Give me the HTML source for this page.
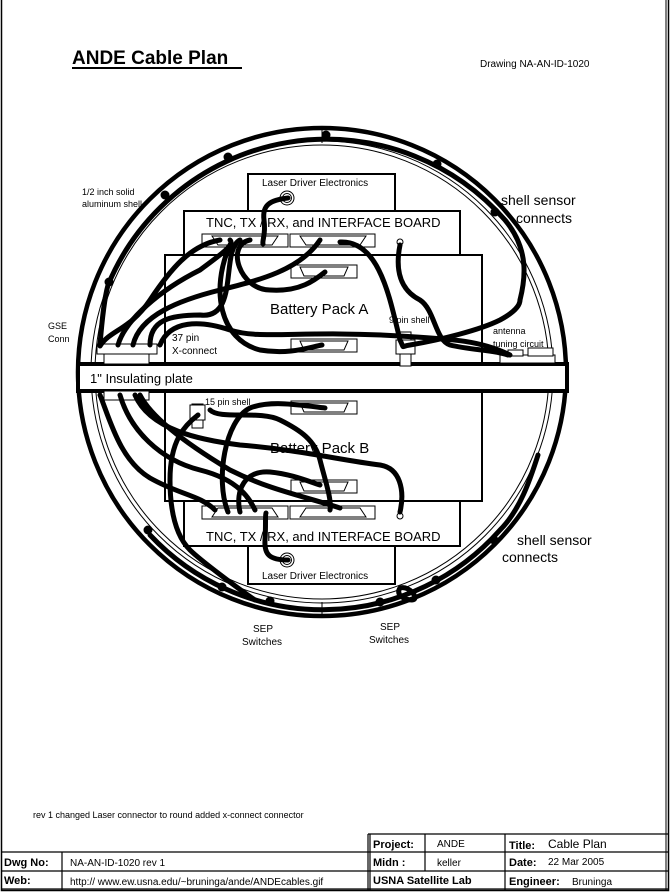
<!DOCTYPE html>
<html><head><meta charset="utf-8"><style>
html,body{margin:0;padding:0;background:#fff}
svg{display:block}
text{font-family:"Liberation Sans",Arial,sans-serif;fill:#000}
</style></head><body>
<svg width="670" height="892" viewBox="0 0 670 892" xmlns="http://www.w3.org/2000/svg">
<rect x="0" y="0" width="670" height="892" fill="#fff"/>
<path d="M1.5 0V890.5H668.5V0" fill="none" stroke="#000" stroke-width="1.5"/>
<line x1="666" y1="0" x2="666" y2="890" stroke="#000" stroke-width="1"/>

<text x="72" y="64" font-size="19" font-weight="bold">ANDE Cable Plan</text>
<line x1="72" y1="68" x2="242" y2="68" stroke="#000" stroke-width="2"/>
<text x="480" y="67" font-size="10">Drawing  NA-AN-ID-1020</text>

<circle cx="322" cy="372" r="244" fill="none" stroke="#000" stroke-width="4.5"/>
<circle cx="322" cy="372" r="231" fill="none" stroke="#000" stroke-width="1"/>
<circle cx="322" cy="372" r="227" fill="none" stroke="#000" stroke-width="1"/>
<line x1="322" y1="128" x2="322" y2="143" stroke="#000"/>
<line x1="322" y1="602" x2="322" y2="616" stroke="#000"/>

<g fill="#fff" stroke="#000" stroke-width="2">
<rect x="248" y="174" width="147" height="38"/>
<rect x="184" y="211" width="276" height="44"/>
<rect x="165" y="255" width="317" height="109"/>
<rect x="165" y="392" width="317" height="109"/>
<rect x="184" y="501" width="276" height="45"/>
<rect x="248" y="546" width="147" height="38"/>
</g>
<rect x="78" y="364" width="489" height="27" fill="#fff" stroke="#000" stroke-width="4"/>
<text x="90" y="383" font-size="13">1" Insulating plate</text>

<g font-size="10">
<text x="262" y="186">Laser Driver Electronics</text>
<text x="262" y="579">Laser Driver Electronics</text>
</g>
<g font-size="13">
<text x="206" y="227">TNC, TX / RX, and INTERFACE BOARD</text>
<text x="206" y="541">TNC, TX / RX, and INTERFACE BOARD</text>
<text x="270" y="314" font-size="15">Battery Pack A</text>
<text x="270" y="453" font-size="15">Battery Pack B</text>
<text x="501" y="205" font-size="14">shell sensor</text>
<text x="516" y="223" font-size="14">connects</text>
<text x="517" y="545" font-size="14">shell sensor</text>
<text x="502" y="562" font-size="14">connects</text>
</g>
<g font-size="9">
<text x="82" y="195">1/2 inch solid</text>
<text x="82" y="207">aluminum shell</text>
<text x="48" y="329">GSE</text>
<text x="48" y="342">Conn</text>
<text x="172" y="341" font-size="10">37 pin</text>
<text x="172" y="354" font-size="10">X-connect</text>
<text x="389" y="323">9 pin shell</text>
<text x="205" y="405">15 pin shell</text>
<text x="493" y="334">antenna</text>
<text x="493" y="347">tuning circuit</text>
<text x="253" y="632" font-size="10">SEP</text>
<text x="242" y="645" font-size="10">Switches</text>
<text x="380" y="630" font-size="10">SEP</text>
<text x="369" y="643" font-size="10">Switches</text>
<text x="33" y="818">rev 1 changed Laser connector to round added x-connect connector</text>
</g>

<g fill="#fff" stroke="#000" stroke-width="1">
<rect x="202" y="234" width="86" height="13"/><rect x="290" y="234" width="85" height="13"/>
<rect x="291" y="265" width="66" height="13"/><rect x="291" y="339" width="66" height="13"/>
<rect x="291" y="401" width="66" height="13"/><rect x="291" y="480" width="66" height="13"/>
<rect x="202" y="506" width="86" height="13"/><rect x="290" y="506" width="85" height="13"/>
<polygon points="212,236 278,236 272,245 218,245"/><polygon points="300,236 366,236 360,245 306,245"/>
<polygon points="300,267 348,267 344,276 304,276"/><polygon points="300,341 348,341 344,350 304,350"/>
<polygon points="300,403 348,403 344,412 304,412"/><polygon points="300,482 348,482 344,491 304,491"/>
<polygon points="218,508 272,508 278,517 212,517"/><polygon points="306,508 360,508 366,517 300,517"/>
<circle cx="400" cy="242" r="3"/><circle cx="400" cy="516" r="3"/>
<circle cx="287" cy="198" r="7"/><circle cx="287" cy="198" r="4.5"/>
<circle cx="287" cy="560" r="7"/><circle cx="287" cy="560" r="4.5"/>
<rect x="97" y="344" width="60" height="10"/><rect x="104" y="354" width="45" height="10"/>
<rect x="104" y="391" width="45" height="9"/>
<rect x="400" y="332" width="11" height="34"/><rect x="396" y="340" width="19" height="14"/>
<rect x="192" y="404" width="11" height="24"/><rect x="190" y="405" width="15" height="15"/>
<rect x="500" y="355" width="55" height="8"/><rect x="508" y="350" width="15" height="6"/><rect x="528" y="348" width="25" height="8"/>
</g>

<g fill="none" stroke="#000" stroke-width="5" stroke-linecap="round" stroke-linejoin="round">
<!-- shell loops along ring -->
<path d="M100 345 C102 320 104 300 108 285 A237 237 0 0 1 505 220 C530 250 525 280 520 300"/>
<path d="M150 535 A237 237 0 0 0 500 530 C520 510 530 480 538 455"/>
<path d="M288 198 C270 200 262 205 264 220 C266 235 262 240 263 244"/>
<path d="M288 560 C270 560 264 555 265 540 C266 525 265 515 266 513"/>
<path d="M100 346 C110 330 130 330 150 300 C170 270 190 245 220 240"/>
<path d="M118 345 C125 320 160 290 200 270 C220 255 235 245 230 240"/>
<path d="M133 345 C140 315 180 300 220 290 C260 280 300 270 320 240"/>
<path d="M150 345 C150 320 170 315 200 315 C240 320 220 250 240 240"/>
<path d="M250 240 C225 245 240 290 270 290 C300 292 315 280 325 272"/>
<path d="M230 245 C210 290 220 340 260 350 C290 355 310 347 322 345"/>
<path d="M160 345 C170 320 200 320 230 330 C260 340 300 330 400 336 C450 339 480 340 510 355"/>
<path d="M340 242 C380 240 390 300 400 340 C405 350 400 346 410 345 C440 340 480 330 500 320 C515 312 520 305 520 300"/>
<path d="M400 245 C395 270 400 290 420 300 C435 310 435 340 450 345 C470 350 495 350 508 355"/>
<path d="M100 395 C110 420 120 460 150 478 C180 495 200 495 215 510"/>
<path d="M120 395 C130 430 160 460 200 470 C240 480 250 500 255 510"/>
<path d="M135 395 C150 430 200 440 240 445 C300 450 340 460 380 465 C400 468 405 490 400 512"/>
<path d="M140 395 C150 415 180 440 230 470 C270 490 300 495 340 508"/>
<path d="M198 415 C185 425 170 440 170 480 C170 520 180 540 190 550 C200 560 240 590 255 600"/>
<path d="M210 410 C220 420 260 410 280 420 C300 430 315 440 320 460 C325 480 332 500 330 510"/>
<path d="M228 512 C215 480 225 420 250 408 C270 400 300 405 325 408"/>
<path d="M240 512 C235 490 245 470 270 472 C290 474 305 480 320 485"/>
<path d="M412 600 C420 600 410 585 400 588 C395 595 405 600 412 600"/>
</g>
<g fill="#000">
<circle cx="109" cy="282" r="4.5"/>
<circle cx="165" cy="195" r="4.5"/>
<circle cx="228" cy="157" r="4.5"/>
<circle cx="326" cy="135" r="4.5"/>
<circle cx="437" cy="164" r="4.5"/>
<circle cx="495" cy="212" r="4.5"/>
<circle cx="148" cy="530" r="4.5"/>
<circle cx="222" cy="587" r="4.5"/>
<circle cx="270" cy="601" r="4.5"/>
<circle cx="380" cy="602" r="4.5"/>
<circle cx="436" cy="580" r="4.5"/>
<circle cx="494" cy="540" r="4.5"/>
</g>

<g fill="none" stroke="#000" stroke-width="1.2">
<line x1="368" y1="834" x2="668" y2="834"/>
<line x1="2" y1="852" x2="668" y2="852"/>
<line x1="2" y1="871" x2="668" y2="871"/>
<line x1="2" y1="889" x2="668" y2="889"/>
<line x1="368" y1="834" x2="368" y2="890"/><line x1="370" y1="834" x2="370" y2="890"/>
<line x1="425" y1="834" x2="425" y2="871"/>
<line x1="505" y1="834" x2="505" y2="890"/>
<line x1="62" y1="852" x2="62" y2="890"/>
</g>
<g font-size="11">
<text x="373" y="848" font-weight="bold">Project:</text>
<text x="437" y="847" font-size="10">ANDE</text>
<text x="509" y="849" font-weight="bold">Title:</text>
<text x="548" y="848" font-size="12">Cable Plan</text>
<text x="4" y="866" font-weight="bold">Dwg No:</text>
<text x="70" y="866" font-size="10">NA-AN-ID-1020  rev 1</text>
<text x="373" y="866" font-weight="bold">Midn :</text>
<text x="437" y="866" font-size="10">keller</text>
<text x="509" y="866" font-weight="bold">Date:</text>
<text x="548" y="865" font-size="10">22 Mar 2005</text>
<text x="4" y="884" font-weight="bold">Web:</text>
<text x="70" y="885" font-size="10">http:// www.ew.usna.edu/~bruninga/ande/ANDEcables.gif</text>
<text x="373" y="884" font-weight="bold">USNA Satellite Lab</text>
<text x="509" y="885" font-weight="bold">Engineer:</text>
<text x="572" y="885" font-size="10">Bruninga</text>
</g>
</svg>
</body></html>
